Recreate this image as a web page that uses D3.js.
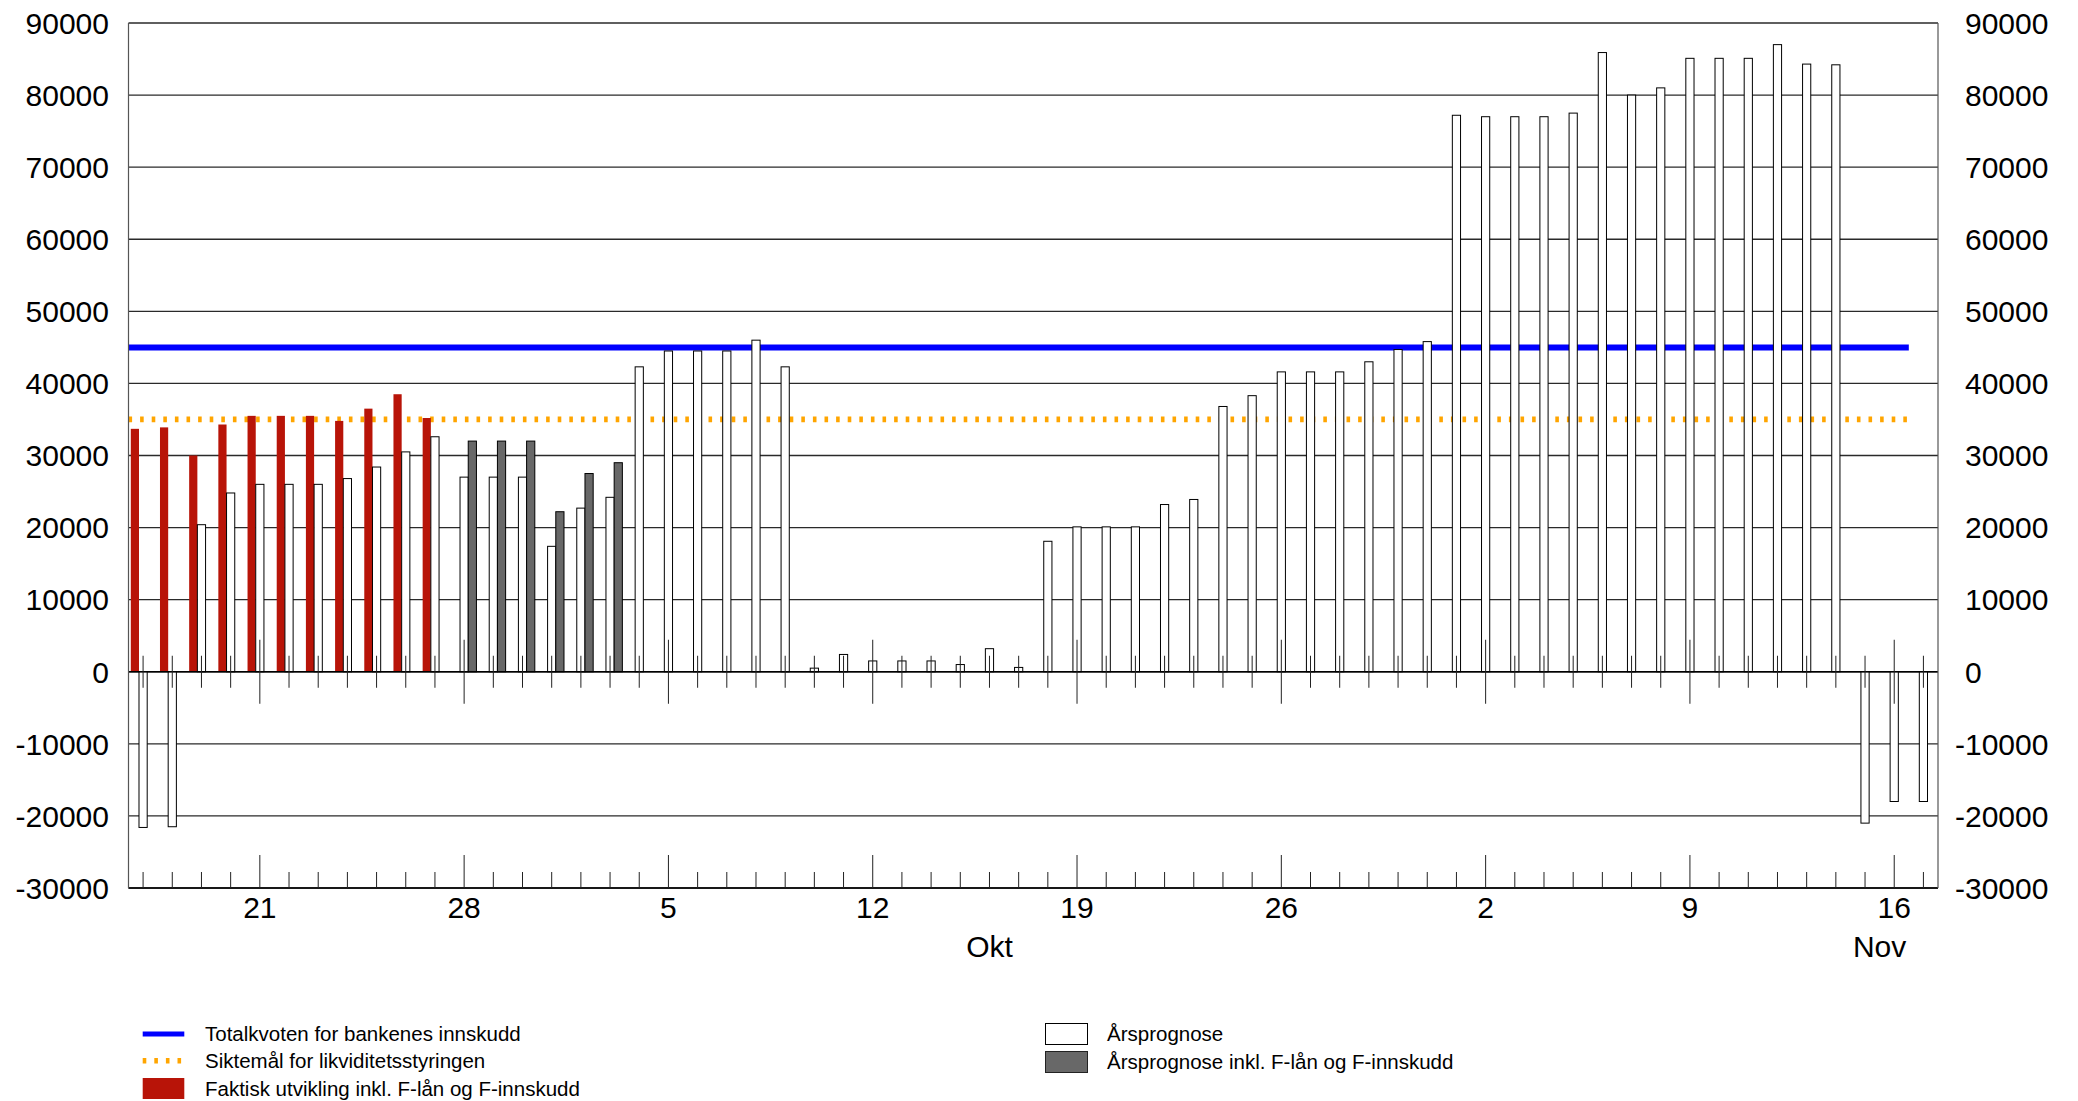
<!DOCTYPE html>
<html>
<head>
<meta charset="utf-8">
<script src="https://cdn.jsdelivr.net/npm/d3@7"></script>
<style>
  html, body { margin: 0; padding: 0; background: #fff; }
  svg { display: block; }
  text { font-family: "Liberation Sans", Arial, sans-serif; fill: #000; }
</style>
</head>
<body>
<svg id="chart" width="2078" height="1101"></svg>
<script>
// ---------------- DATA ----------------
const days = [
  "2009-09-17","2009-09-18","2009-09-19","2009-09-20","2009-09-21","2009-09-22","2009-09-23",
  "2009-09-24","2009-09-25","2009-09-26","2009-09-27","2009-09-28","2009-09-29","2009-09-30",
  "2009-10-01","2009-10-02","2009-10-03","2009-10-04","2009-10-05","2009-10-06","2009-10-07",
  "2009-10-08","2009-10-09","2009-10-10","2009-10-11","2009-10-12","2009-10-13","2009-10-14",
  "2009-10-15","2009-10-16","2009-10-17","2009-10-18","2009-10-19","2009-10-20","2009-10-21",
  "2009-10-22","2009-10-23","2009-10-24","2009-10-25","2009-10-26","2009-10-27","2009-10-28",
  "2009-10-29","2009-10-30","2009-10-31","2009-11-01","2009-11-02","2009-11-03","2009-11-04",
  "2009-11-05","2009-11-06","2009-11-07","2009-11-08","2009-11-09","2009-11-10","2009-11-11",
  "2009-11-12","2009-11-13","2009-11-14","2009-11-15","2009-11-16","2009-11-17"
];

// Faktisk utvikling inkl. F-lån og F-innskudd (red)
const faktiskDays   = ["2009-09-17","2009-09-18","2009-09-19","2009-09-20","2009-09-21","2009-09-22",
                       "2009-09-23","2009-09-24","2009-09-25","2009-09-26","2009-09-27"];
const faktiskValues = [33700, 33900, 30000, 34300, 35500, 35500, 35500, 34800, 36500, 38500, 35200];

// Årsprognose (white), one value per day in `days`
const prognoseValues = [
  -21600, -21500, 20400, 24800, 26000, 26000, 26000, 26800, 28400, 30500, 32600, 27000, 27000, 27000,
  17400, 22700, 24200, 42300, 44500, 44500, 44500, 46000, 42300, 500, 2400, 1500, 1500, 1500,
  1000, 3200, 600, 18100, 20100, 20100, 20100, 23200, 23900, 36800, 38300, 41600, 41600, 41600,
  43000, 44700, 45800, 77200, 77000, 77000, 77000, 77500, 85900, 80000, 81000, 85100, 85100, 85100,
  87000, 84300, 84200, -21000, -18000, -18000
];

// Årsprognose inkl. F-lån og F-innskudd (grey)
const inklDays   = ["2009-09-28","2009-09-29","2009-09-30","2009-10-01","2009-10-02","2009-10-03"];
const inklValues = [32000, 32000, 32000, 22200, 27500, 29000];

// Horizontal reference lines
const totalkvote = { from: "2009-09-17", to: "2009-11-16", value: 45000 };
const siktemaal  = { from: "2009-09-17", to: "2009-11-16", value: 35000 };

// Axis ticks / labels
const yTicks = [-30000, -20000, -10000, 0, 10000, 20000, 30000, 40000, 50000, 60000, 70000, 80000, 90000];
const weekTickDays   = ["2009-09-21","2009-09-28","2009-10-05","2009-10-12","2009-10-19",
                        "2009-10-26","2009-11-02","2009-11-09","2009-11-16"];
const weekTickLabels = ["21","28","5","12","19","26","2","9","16"];
const monthLabels = ["Okt", "Nov"];
const monthStarts = ["2009-10-01", "2009-11-01"];
const monthLengths = [31, 30];

const legendLeft  = ["Totalkvoten for bankenes innskudd", "Siktemål for likviditetsstyringen",
                     "Faktisk utvikling inkl. F-lån og F-innskudd"];
const legendRight = ["Årsprognose", "Årsprognose inkl. F-lån og F-innskudd"];

// ---------------- STYLE ----------------
const C = { red: "#b81408", grey: "#686868", blue: "#0000ff", orange: "#ffa500", grid: "#2a2a2a" };
const plot = { left: 128.5, right: 1938, top: 23, bottom: 888 };

// ---------------- SCALES ----------------
const svg = d3.select("#chart");
const x = d3.scaleBand().domain(days).range([plot.left, plot.right]).padding(0);
const bw = x.bandwidth();
const cx = d => x(d) + bw / 2;
const y = d3.scaleLinear().domain([-30000, 90000]).range([plot.bottom, plot.top]);
const xs = d3.scaleBand().domain(["faktisk", "prognose", "inkl"]).range([-12.3, 12.3]).padding(0);
const sw = xs.bandwidth();

// ---------------- GRID ----------------
svg.append("g").selectAll("line").data(yTicks).join("line")
  .attr("x1", plot.left).attr("x2", plot.right)
  .attr("y1", d => y(d)).attr("y2", d => y(d))
  .attr("stroke", C.grid).attr("stroke-width", 1.3);

// ---------------- REFERENCE LINES ----------------
const refLine = (ref, color, width, dash) => {
  const pts = [[x(ref.from), ref.value], [x(ref.to) + bw, ref.value]];
  svg.append("path")
    .attr("d", d3.line().x(p => p[0]).y(p => y(p[1]))(pts))
    .attr("fill", "none").attr("stroke", color).attr("stroke-width", width)
    .attr("stroke-dasharray", dash || null);
};
refLine(totalkvote, C.blue, 6);
refLine(siktemaal, C.orange, 5.8, "3.6,8");

// ---------------- BARS ----------------
const bar = (sel, key) => sel
  .attr("x", d => cx(d.day) + xs(key))
  .attr("width", sw)
  .attr("y", d => y(Math.max(0, d.v)))
  .attr("height", d => Math.abs(y(d.v) - y(0)));

svg.append("g").selectAll("rect")
  .data(faktiskDays.map((d, i) => ({ day: d, v: faktiskValues[i] })))
  .join("rect").call(bar, "faktisk").attr("fill", C.red);

svg.append("g").selectAll("rect")
  .data(days.map((d, i) => ({ day: d, v: prognoseValues[i] })))
  .join("rect").call(bar, "prognose")
  .attr("fill", "#fff").attr("stroke", "#000").attr("stroke-width", 1);

svg.append("g").selectAll("rect")
  .data(inklDays.map((d, i) => ({ day: d, v: inklValues[i] })))
  .join("rect").call(bar, "inkl")
  .attr("fill", C.grey).attr("stroke", "#000").attr("stroke-width", 1);

// ---------------- AXES ----------------
const isWeek = d => weekTickDays.includes(d);
// zero line
svg.append("line").attr("x1", plot.left).attr("x2", plot.right)
  .attr("y1", y(0)).attr("y2", y(0)).attr("stroke", "#000").attr("stroke-width", 1.5);
// bottom axis line
svg.append("line").attr("x1", plot.left).attr("x2", plot.right)
  .attr("y1", plot.bottom).attr("y2", plot.bottom).attr("stroke", "#000").attr("stroke-width", 1.5);
// left/right axis lines
[plot.left, plot.right].forEach(xx => svg.append("line")
  .attr("x1", xx).attr("x2", xx).attr("y1", plot.top).attr("y2", plot.bottom)
  .attr("stroke", "#555").attr("stroke-width", 1.2));

// day ticks at bottom axis
svg.append("g").selectAll("line").data(days).join("line")
  .attr("x1", d => cx(d)).attr("x2", d => cx(d))
  .attr("y1", plot.bottom).attr("y2", d => plot.bottom - (isWeek(d) ? 33 : 16))
  .attr("stroke", "#222").attr("stroke-width", 1);
// day ticks crossing zero line
svg.append("g").selectAll("line").data(days).join("line")
  .attr("x1", d => cx(d)).attr("x2", d => cx(d))
  .attr("y1", d => y(0) - (isWeek(d) ? 32 : 16)).attr("y2", d => y(0) + (isWeek(d) ? 32 : 16))
  .attr("stroke", "#222").attr("stroke-width", 1);

// y labels
const fs = 30;
svg.append("g").selectAll("text").data(yTicks).join("text")
  .attr("x", 109).attr("y", d => y(d)).attr("dy", "0.36em")
  .attr("text-anchor", "end").style("font-size", fs + "px")
  .text(d => d);
svg.append("g").selectAll("text").data(yTicks).join("text")
  .attr("x", d => 1965 - (d < 0 ? 0.333 * fs : 0)).attr("y", d => y(d)).attr("dy", "0.36em")
  .attr("text-anchor", "start").style("font-size", fs + "px")
  .text(d => d);

// x labels
svg.append("g").selectAll("text").data(weekTickDays).join("text")
  .attr("x", d => cx(d)).attr("y", 918)
  .attr("text-anchor", "middle").style("font-size", fs + "px")
  .text((d, i) => weekTickLabels[i]);
svg.append("g").selectAll("text").data(monthLabels).join("text")
  .attr("x", (d, i) => x(monthStarts[i]) + monthLengths[i] * bw / 2).attr("y", 957)
  .attr("text-anchor", "middle").style("font-size", fs + "px")
  .text(d => d);

// ---------------- LEGEND ----------------
const lfs = 20.5;
const lg = svg.append("g");
lg.append("line").attr("x1", 142.7).attr("x2", 184.3).attr("y1", 1034).attr("y2", 1034)
  .attr("stroke", C.blue).attr("stroke-width", 5);
lg.append("line").attr("x1", 142.7).attr("x2", 184.3).attr("y1", 1060.7).attr("y2", 1060.7)
  .attr("stroke", C.orange).attr("stroke-width", 5.5).attr("stroke-dasharray", "3.6,8");
lg.append("rect").attr("x", 142.7).attr("y", 1078).attr("width", 41.6).attr("height", 21)
  .attr("fill", C.red);
lg.selectAll("text.l").data(legendLeft).join("text").attr("class", "l")
  .attr("x", 205).attr("y", (d, i) => [1034, 1061, 1088.5][i]).attr("dy", "0.36em")
  .style("font-size", lfs + "px").text(d => d);

lg.append("rect").attr("x", 1045.5).attr("y", 1023.5).attr("width", 42).attr("height", 21)
  .attr("fill", "#fff").attr("stroke", "#000").attr("stroke-width", 1);
lg.append("rect").attr("x", 1045.5).attr("y", 1051.5).attr("width", 42).attr("height", 21)
  .attr("fill", C.grey).attr("stroke", "#222").attr("stroke-width", 1);
lg.selectAll("text.r").data(legendRight).join("text").attr("class", "r")
  .attr("x", 1107).attr("y", (d, i) => [1034, 1062][i]).attr("dy", "0.36em")
  .style("font-size", lfs + "px").text(d => d);
</script>
</body>
</html>
